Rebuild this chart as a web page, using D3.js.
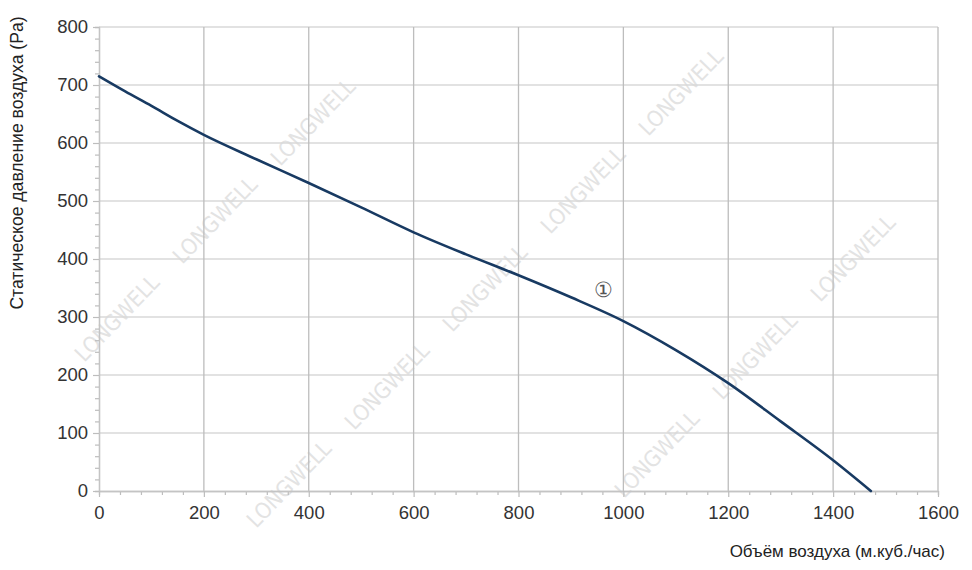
<!DOCTYPE html>
<html>
<head>
<meta charset="utf-8">
<script src="https://cdn.jsdelivr.net/npm/d3@7"></script>
<style>
  html, body { margin: 0; padding: 0; background: #fff; }
  svg { display: block; font-family: "Liberation Sans", Arial, sans-serif; }
</style>
</head>
<body>
<svg width="972" height="570"></svg>
<script>
// Air flow (m3/h) and static pressure (Pa)
const flow = [0, 50, 100, 150, 200, 300, 400, 500, 600, 700, 800, 900, 1000, 1100, 1200, 1300, 1400, 1472]
const pressure = [715, 689, 664, 638, 614, 572, 531, 489, 446, 408, 372, 334, 293, 243, 186, 120, 53, 0]

// tick labels
const xTicks = [0, 200, 400, 600, 800, 1000, 1200, 1400, 1600]
const yTicks = [0, 100, 200, 300, 400, 500, 600, 700, 800]

// curve marker
const curveLabel = '①'
const curveLabelAt = [963, 348]

const xTitle = 'Объём воздуха (м.куб./час)'
const yTitle = 'Статическое давление воздуха (Pa)'

// plot area
const margin = { top: 27, right: 34, bottom: 79, left: 99 }
const width = 972 - margin.left - margin.right
const height = 570 - margin.top - margin.bottom

const svg = d3.select('svg')

// watermark (background decoration), only the copies that fit on the page
const wm = svg.append('g')
for (let i = -4; i <= 6; i++) {
  for (let j = -3; j <= 4; j++) {
    const cx = 215 + i * 98 + j * 172
    const cy = 220 - i * 98 + j * 166
    if (cx < 46 || cx > 926 || cy < 46 || cy > 524) continue
    wm.append('text')
      .attr('transform', `translate(${cx},${cy}) rotate(-46)`)
      .attr('text-anchor', 'middle')
      .attr('dy', '0.35em')
      .style('font-family', '"DejaVu Sans Condensed", "DejaVu Sans", sans-serif')
      .style('font-stretch', 'condensed')
      .style('font-weight', '300')
      .style('font-size', '22px')
      .style('fill', '#e3e3e3')
      .text('LONGWELL')
  }
}

const g = svg.append('g')
  .attr('transform', `translate(${margin.left},${margin.top})`)

const x = d3.scaleLinear().domain([0, 1600]).range([0, width])
const y = d3.scaleLinear().domain([0, 800]).range([height, 0])

// grid
g.append('g')
  .selectAll('line')
  .data(yTicks.slice(1))
  .enter()
  .append('line')
  .attr('x1', 0)
  .attr('x2', width)
  .attr('y1', d => y(d))
  .attr('y2', d => y(d))
  .attr('stroke', '#d9d9d9')
  .attr('stroke-width', 1.3)

g.append('g')
  .selectAll('line')
  .data(xTicks.slice(1))
  .enter()
  .append('line')
  .attr('x1', d => x(d))
  .attr('x2', d => x(d))
  .attr('y1', 0)
  .attr('y2', height)
  .attr('stroke', '#bdbdbd')
  .attr('stroke-width', 1.3)

// minor ticks every 40 on x, every 20 on y
const xMinor = d3.range(0, 1601, 40).filter(v => v % 200 !== 0)
const yMinor = d3.range(0, 801, 20).filter(v => v % 100 !== 0)

const xAxisMinor = g.append('g')
  .attr('transform', `translate(0,${height})`)
  .call(d3.axisBottom(x).tickValues(xMinor).tickSize(4).tickFormat(''))
const yAxisMinor = g.append('g')
  .call(d3.axisLeft(y).tickValues(yMinor).tickSize(4).tickFormat(''))

const xAxis = g.append('g')
  .attr('transform', `translate(0,${height})`)
  .call(d3.axisBottom(x).tickValues(xTicks).tickFormat(d3.format('d'))
    .tickSize(6).tickPadding(9).tickSizeOuter(0))
const yAxis = g.append('g')
  .call(d3.axisLeft(y).tickValues(yTicks).tickFormat(d3.format('d'))
    .tickSize(6).tickPadding(5).tickSizeOuter(0))

;[xAxisMinor, yAxisMinor, xAxis, yAxis].forEach(a => {
  a.select('.domain').attr('stroke', '#c4c4c4').attr('stroke-width', 1.3)
  a.selectAll('.tick line').attr('stroke', '#bdbdbd').attr('stroke-width', 1.2)
  a.selectAll('.tick text')
    .attr('fill', '#333')
    .style('font-size', '18.5px')
    .style('font-family', '"Liberation Sans", Arial, sans-serif')
})

// curve
const pts = flow.map((f, i) => [f, pressure[i]])
const line = d3.line()
  .x(d => x(d[0]))
  .y(d => y(d[1]))
  .curve(d3.curveMonotoneX)

g.append('path')
  .datum(pts)
  .attr('d', line)
  .attr('fill', 'none')
  .attr('stroke', '#183a62')
  .attr('stroke-width', 2.6)
  .attr('stroke-linecap', 'round')

g.append('text')
  .attr('x', x(curveLabelAt[0]))
  .attr('y', y(curveLabelAt[1]))
  .attr('text-anchor', 'middle')
  .attr('dy', '0.35em')
  .style('font-size', '21px')
  .style('font-family', '"DejaVu Serif", serif')
  .attr('fill', '#555')
  .text(curveLabel)

// axis titles
svg.append('text')
  .attr('x', 945)
  .attr('y', 557)
  .attr('text-anchor', 'end')
  .attr('fill', '#222')
  .style('font-size', '17px')
  .text(xTitle)

svg.append('text')
  .attr('transform', 'translate(23,163) rotate(-90)')
  .attr('text-anchor', 'middle')
  .attr('fill', '#222')
  .style('font-size', '17.6px')
  .text(yTitle)
</script>
</body>
</html>
